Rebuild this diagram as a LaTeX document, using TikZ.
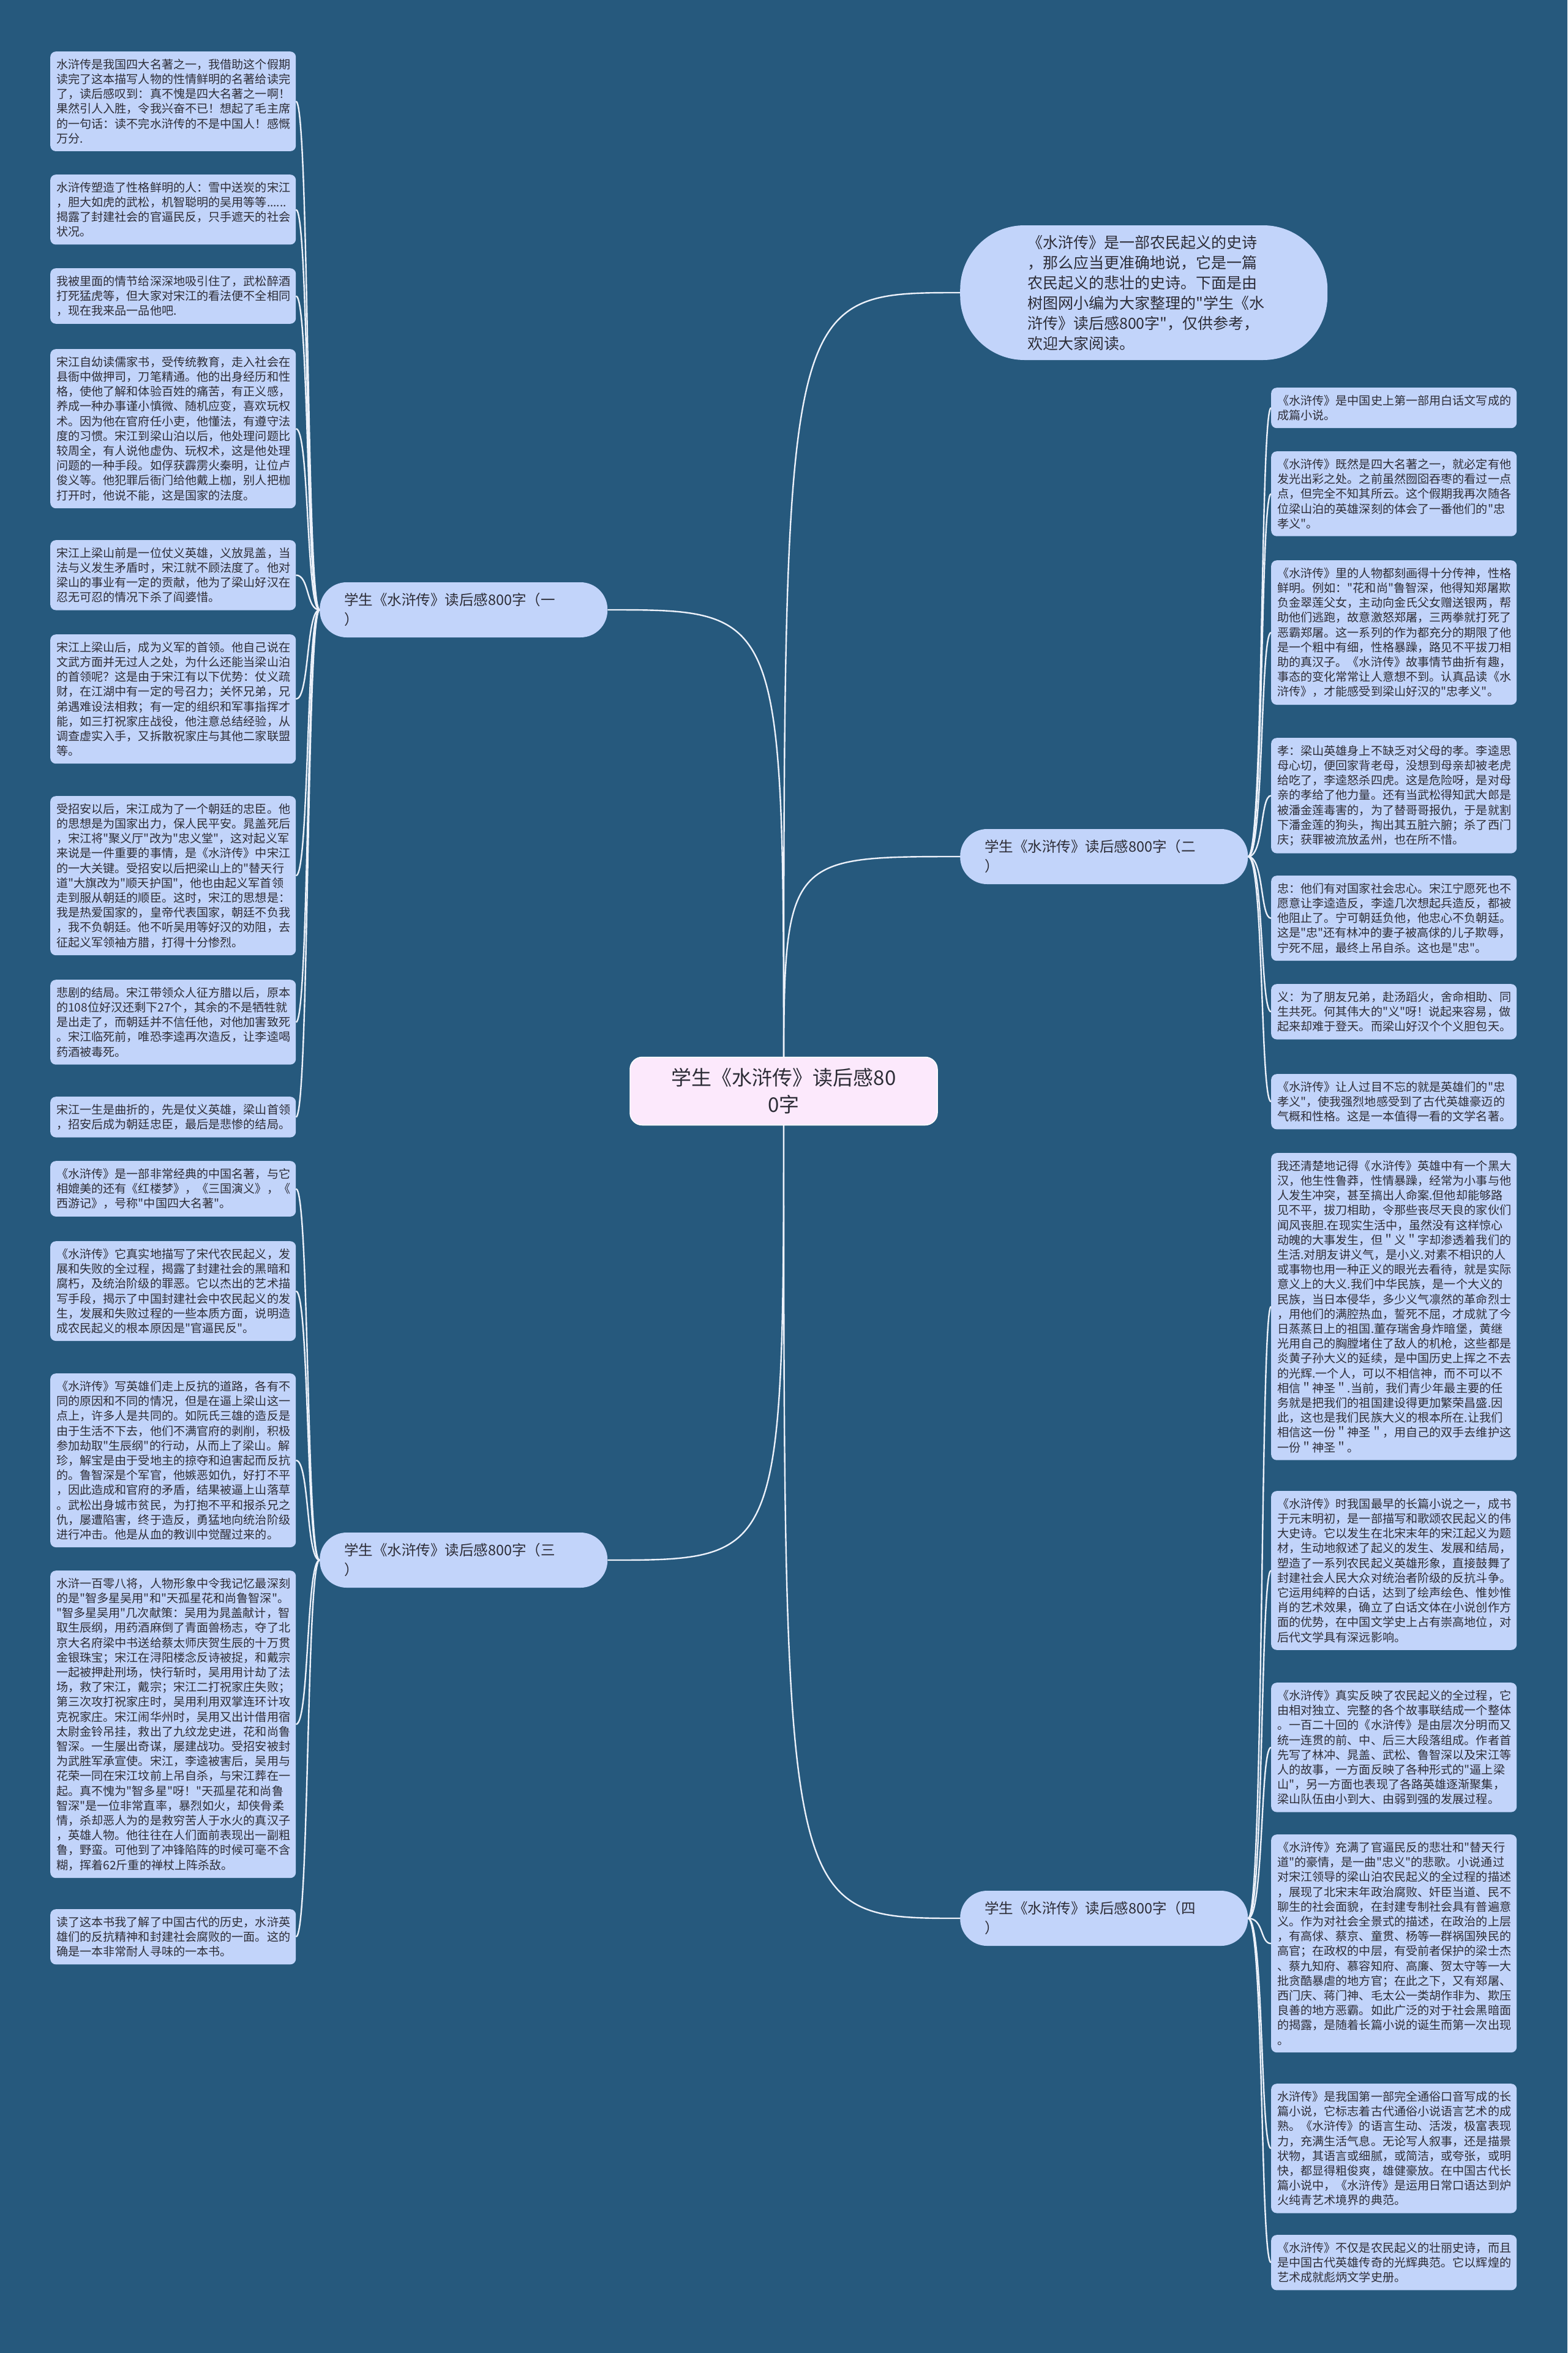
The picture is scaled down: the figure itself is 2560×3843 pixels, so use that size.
\documentclass[tikz,border=0pt]{standalone}
\usepackage{fontspec}
\setmainfont{Noto Sans CJK SC}[Ligatures=TeXOff]
\usetikzlibrary{
	backgrounds
}
\definecolor{mapbg}{RGB}{38,89,125}
\definecolor{leaffill}{RGB}{194,212,250}
\definecolor{rootfill}{RGB}{252,233,252}
\definecolor{inktext}{RGB}{45,45,55}
\definecolor{linkline}{RGB}{236,241,250}

\begin{document}
\begin{tikzpicture}[
		x=1pt, y=-1pt,
		leaf/.style={fill=leaffill, rounded corners=9, text=inktext, anchor=north west, align=left, text width=381pt, inner xsep=10pt, inner ysep=12pt, font=\fontsize{19.1}{24.2}\selectfont},
		branch/.style={fill=leaffill, rounded corners=44, text=inktext, anchor=west, align=left, text width=390pt, inner xsep=40pt, minimum height=90pt, font=\fontsize{23.5}{32}\selectfont},
		rootbox/.style={fill=rootfill, draw=white, line width=1.5pt, rounded corners=20, text=inktext, align=center, minimum width=502pt, minimum height=111pt, font=\fontsize{33}{44}\selectfont},
		bubble/.style={fill=leaffill, rounded corners=105, text=inktext, anchor=west, align=left, text width=380pt, inner xsep=110pt, minimum height=220pt, font=\fontsize{25}{33}\selectfont},
		link/.style={draw=linkline, line width=2.4pt}
		]
		
		% --- Centre ---
		\node[rootbox] (root) at (1280,1782) {学生《水浒传》读后感80\\0字};
		
		\node[bubble] (intro) at (1568,478)
		{《水浒传》是一部农民起义的史诗\\，那么应当更准确地说，它是一篇\\农民起义的悲壮的史诗。下面是由\\树图网小编为大家整理的"学生《水\\浒传》读后感800字"，仅供参考，\\欢迎大家阅读。};
		
		% --- Branches ---
		\node[branch] (b1) at (522,996) {学生《水浒传》读后感800字（一\\）};
		\node[branch] (b2) at (1568,1399) {学生《水浒传》读后感800字（二\\）};
		\node[branch] (b3) at (522,2548) {学生《水浒传》读后感800字（三\\）};
		\node[branch] (b4) at (1568,3133) {学生《水浒传》读后感800字（四\\）};
		
		% --- Left column, branch one ---
		\node[leaf] (l1) at (82,84)
		{水浒传是我国四大名著之一，我借助这个假期\\读完了这本描写人物的性情鲜明的名著给读完\\了，读后感叹到：真不愧是四大名著之一啊！\\果然引人入胜，令我兴奋不已！想起了毛主席\\的一句话：读不完水浒传的不是中国人！感慨\\万分.};
		\node[leaf] (l2) at (82,285)
		{水浒传塑造了性格鲜明的人：雪中送炭的宋江\\，胆大如虎的武松，机智聪明的吴用等等......\\揭露了封建社会的官逼民反，只手遮天的社会\\状况。};
		\node[leaf] (l3) at (82,438)
		{我被里面的情节给深深地吸引住了，武松醉酒\\打死猛虎等，但大家对宋江的看法便不全相同\\，现在我来品一品他吧.};
		\node[leaf] (l4) at (82,570)
		{宋江自幼读儒家书，受传统教育，走入社会在\\县衙中做押司，刀笔精通。他的出身经历和性\\格，使他了解和体验百姓的痛苦，有正义感，\\养成一种办事谨小慎微、随机应变，喜欢玩权\\术。因为他在官府任小吏，他懂法，有遵守法\\度的习惯。宋江到梁山泊以后，他处理问题比\\较周全，有人说他虚伪、玩权术，这是他处理\\问题的一种手段。如俘获霹雳火秦明，让位卢\\俊义等。他犯罪后衙门给他戴上枷，别人把枷\\打开时，他说不能，这是国家的法度。};
		\node[leaf] (l5) at (82,882)
		{宋江上梁山前是一位仗义英雄，义放晁盖，当\\法与义发生矛盾时，宋江就不顾法度了。他对\\梁山的事业有一定的贡献，他为了梁山好汉在\\忍无可忍的情况下杀了阎婆惜。};
		\node[leaf] (l6) at (82,1036)
		{宋江上梁山后，成为义军的首领。他自己说在\\文武方面并无过人之处，为什么还能当梁山泊\\的首领呢？这是由于宋江有以下优势：仗义疏\\财，在江湖中有一定的号召力；关怀兄弟，兄\\弟遇难设法相救；有一定的组织和军事指挥才\\能，如三打祝家庄战役，他注意总结经验，从\\调查虚实入手，又拆散祝家庄与其他二家联盟\\等。};
		\node[leaf] (l7) at (82,1300)
		{受招安以后，宋江成为了一个朝廷的忠臣。他\\的思想是为国家出力，保人民平安。晁盖死后\\，宋江将"聚义厅"改为"忠义堂"，这对起义军\\来说是一件重要的事情，是《水浒传》中宋江\\的一大关键。受招安以后把梁山上的"替天行\\道"大旗改为"顺天护国"，他也由起义军首领\\走到服从朝廷的顺臣。这时，宋江的思想是：\\我是热爱国家的，皇帝代表国家，朝廷不负我\\，我不负朝廷。他不听吴用等好汉的劝阻，去\\征起义军领袖方腊，打得十分惨烈。};
		\node[leaf] (l8) at (82,1600)
		{悲剧的结局。宋江带领众人征方腊以后，原本\\的108位好汉还剩下27个，其余的不是牺牲就\\是出走了，而朝廷并不信任他，对他加害致死\\。宋江临死前，唯恐李逵再次造反，让李逵喝\\药酒被毒死。};
		\node[leaf] (l9) at (82,1791)
		{宋江一生是曲折的，先是仗义英雄，梁山首领\\，招安后成为朝廷忠臣，最后是悲惨的结局。};
		
		% --- Left column, branch three ---
		\node[leaf] (l10) at (82,1896)
		{《水浒传》是一部非常经典的中国名著，与它\\相媲美的还有《红楼梦》，《三国演义》，《\\西游记》，号称"中国四大名著"。};
		\node[leaf] (l11) at (82,2027)
		{《水浒传》它真实地描写了宋代农民起义，发\\展和失败的全过程，揭露了封建社会的黑暗和\\腐朽，及统治阶级的罪恶。它以杰出的艺术描\\写手段，揭示了中国封建社会中农民起义的发\\生，发展和失败过程的一些本质方面，说明造\\成农民起义的根本原因是"官逼民反"。};
		\node[leaf] (l12) at (82,2243)
		{《水浒传》写英雄们走上反抗的道路，各有不\\同的原因和不同的情况，但是在逼上梁山这一\\点上，许多人是共同的。如阮氏三雄的造反是\\由于生活不下去，他们不满官府的剥削，积极\\参加劫取"生辰纲"的行动，从而上了梁山。解\\珍，解宝是由于受地主的掠夺和迫害起而反抗\\的。鲁智深是个军官，他嫉恶如仇，好打不平\\，因此造成和官府的矛盾，结果被逼上山落草\\。武松出身城市贫民，为打抱不平和报杀兄之\\仇，屡遭陷害，终于造反，勇猛地向统治阶级\\进行冲击。他是从血的教训中觉醒过来的。};
		\node[leaf] (l13) at (82,2565)
		{水浒一百零八将，人物形象中令我记忆最深刻\\的是"智多星吴用"和"天孤星花和尚鲁智深"。\\"智多星吴用"几次献策：吴用为晁盖献计，智\\取生辰纲，用药酒麻倒了青面兽杨志，夺了北\\京大名府梁中书送给蔡太师庆贺生辰的十万贯\\金银珠宝；宋江在浔阳楼念反诗被捉，和戴宗\\一起被押赴刑场，快行斩时，吴用用计劫了法\\场，救了宋江，戴宗；宋江二打祝家庄失败；\\第三次攻打祝家庄时，吴用利用双掌连环计攻\\克祝家庄。宋江闹华州时，吴用又出计借用宿\\太尉金铃吊挂，救出了九纹龙史进，花和尚鲁\\智深。一生屡出奇谋，屡建战功。受招安被封\\为武胜军承宣使。宋江，李逵被害后，吴用与\\花荣一同在宋江坟前上吊自杀，与宋江葬在一\\起。真不愧为"智多星"呀！"天孤星花和尚鲁\\智深"是一位非常直率，暴烈如火，却侠骨柔\\情，杀却恶人为的是救穷苦人于水火的真汉子\\，英雄人物。他往往在人们面前表现出一副粗\\鲁，野蛮。可他到了冲锋陷阵的时候可毫不含\\糊，挥着62斤重的禅杖上阵杀敌。};
		\node[leaf] (l14) at (82,3118)
		{读了这本书我了解了中国古代的历史，水浒英\\雄们的反抗精神和封建社会腐败的一面。这的\\确是一本非常耐人寻味的一本书。};
		
		% --- Right column, branch two ---
		\node[leaf] (r1) at (2076,633)
		{《水浒传》是中国史上第一部用白话文写成的\\成篇小说。};
		\node[leaf] (r2) at (2076,737)
		{《水浒传》既然是四大名著之一，就必定有他\\发光出彩之处。之前虽然囫囵吞枣的看过一点\\点，但完全不知其所云。这个假期我再次随各\\位梁山泊的英雄深刻的体会了一番他们的"忠\\孝义"。};
		\node[leaf] (r3) at (2076,915)
		{《水浒传》里的人物都刻画得十分传神，性格\\鲜明。例如："花和尚"鲁智深，他得知郑屠欺\\负金翠莲父女，主动向金氏父女赠送银两，帮\\助他们逃跑，故意激怒郑屠，三两拳就打死了\\恶霸郑屠。这一系列的作为都充分的期限了他\\是一个粗中有细，性格暴躁，路见不平拔刀相\\助的真汉子。《水浒传》故事情节曲折有趣，\\事态的变化常常让人意想不到。认真品读《水\\浒传》，才能感受到梁山好汉的"忠孝义"。};
		\node[leaf] (r4) at (2076,1205)
		{孝：梁山英雄身上不缺乏对父母的孝。李逵思\\母心切，便回家背老母，没想到母亲却被老虎\\给吃了，李逵怒杀四虎。这是危险呀，是对母\\亲的孝给了他力量。还有当武松得知武大郎是\\被潘金莲毒害的，为了替哥哥报仇，于是就割\\下潘金莲的狗头，掏出其五脏六腑；杀了西门\\庆；获罪被流放孟州，也在所不惜。};
		\node[leaf] (r5) at (2076,1430)
		{忠：他们有对国家社会忠心。宋江宁愿死也不\\愿意让李逵造反，李逵几次想起兵造反，都被\\他阻止了。宁可朝廷负他，他忠心不负朝廷。\\这是"忠"还有林冲的妻子被高俅的儿子欺辱，\\宁死不屈，最终上吊自杀。这也是"忠"。};
		\node[leaf] (r6) at (2076,1607)
		{义：为了朋友兄弟，赴汤蹈火，舍命相助、同\\生共死。何其伟大的"义"呀！说起来容易，做\\起来却难于登天。而梁山好汉个个义胆包天。};
		\node[leaf] (r7) at (2076,1754)
		{《水浒传》让人过目不忘的就是英雄们的"忠\\孝义"，使我强烈地感受到了古代英雄豪迈的\\气概和性格。这是一本值得一看的文学名著。};
		
		% --- Right column, branch four ---
		\node[leaf] (r8) at (2076,1883)
		{我还清楚地记得《水浒传》英雄中有一个黑大\\汉，他生性鲁莽，性情暴躁，经常为小事与他\\人发生冲突，甚至搞出人命案.但他却能够路\\见不平，拔刀相助，令那些丧尽天良的家伙们\\闻风丧胆.在现实生活中，虽然没有这样惊心\\动魄的大事发生，但＂义＂字却渗透着我们的\\生活.对朋友讲义气，是小义.对素不相识的人\\或事物也用一种正义的眼光去看待，就是实际\\意义上的大义.我们中华民族，是一个大义的\\民族，当日本侵华，多少义气凛然的革命烈士\\，用他们的满腔热血，誓死不屈，才成就了今\\日蒸蒸日上的祖国.董存瑞舍身炸暗堡，黄继\\光用自己的胸膛堵住了敌人的机枪，这些都是\\炎黄子孙大义的延续，是中国历史上挥之不去\\的光辉.一个人，可以不相信神，而不可以不\\相信＂神圣＂.当前，我们青少年最主要的任\\务就是把我们的祖国建设得更加繁荣昌盛.因\\此，这也是我们民族大义的根本所在.让我们\\相信这一份＂神圣＂，用自己的双手去维护这\\一份＂神圣＂。};
		\node[leaf] (r9) at (2076,2435)
		{《水浒传》时我国最早的长篇小说之一，成书\\于元末明初，是一部描写和歌颂农民起义的伟\\大史诗。它以发生在北宋末年的宋江起义为题\\材，生动地叙述了起义的发生、发展和结局，\\塑造了一系列农民起义英雄形象，直接鼓舞了\\封建社会人民大众对统治者阶级的反抗斗争。\\它运用纯粹的白话，达到了绘声绘色、惟妙惟\\肖的艺术效果，确立了白话文体在小说创作方\\面的优势，在中国文学史上占有崇高地位，对\\后代文学具有深远影响。};
		\node[leaf] (r10) at (2076,2748)
		{《水浒传》真实反映了农民起义的全过程，它\\由相对独立、完整的各个故事联结成一个整体\\。一百二十回的《水浒传》是由层次分明而又\\统一连贯的前、中、后三大段落组成。作者首\\先写了林冲、晁盖、武松、鲁智深以及宋江等\\人的故事，一方面反映了各种形式的"逼上梁\\山"，另一方面也表现了各路英雄逐渐聚集，\\梁山队伍由小到大、由弱到强的发展过程。};
		\node[leaf] (r11) at (2076,2996)
		{《水浒传》充满了官逼民反的悲壮和"替天行\\道"的豪情，是一曲"忠义"的悲歌。小说通过\\对宋江领导的梁山泊农民起义的全过程的描述\\，展现了北宋末年政治腐败、奸臣当道、民不\\聊生的社会面貌，在封建专制社会具有普遍意\\义。作为对社会全景式的描述，在政治的上层\\，有高俅、蔡京、童贯、杨等一群祸国殃民的\\高官；在政权的中层，有受前者保护的梁士杰\\、蔡九知府、慕容知府、高廉、贺太守等一大\\批贪酷暴虐的地方官；在此之下，又有郑屠、\\西门庆、蒋门神、毛太公一类胡作非为、欺压\\良善的地方恶霸。如此广泛的对于社会黑暗面\\的揭露，是随着长篇小说的诞生而第一次出现\\。};
		\node[leaf] (r12) at (2076,3403)
		{水浒传》是我国第一部完全通俗口音写成的长\\篇小说，它标志着古代通俗小说语言艺术的成\\熟。《水浒传》的语言生动、活泼，极富表现\\力，充满生活气息。无论写人叙事，还是描景\\状物，其语言或细腻，或简洁，或夸张，或明\\快，都显得粗俊爽，雄健豪放。在中国古代长\\篇小说中，《水浒传》是运用日常口语达到炉\\火纯青艺术境界的典范。};
		\node[leaf] (r13) at (2076,3650)
		{《水浒传》不仅是农民起义的壮丽史诗，而且\\是中国古代英雄传奇的光辉典范。它以辉煌的\\艺术成就彪炳文学史册。};
		
		% --- Links ---
		\begin{pgfonlayer}{background}
			\fill[mapbg] (0,0) rectangle (2560,3843);
			\draw[link] (root.center) .. controls (root.center |- intro.west) .. (intro.west);
			\draw[link] (root.center) .. controls (root.center |- b1.east) .. (b1.east);
			\draw[link] (root.center) .. controls (root.center |- b2.west) .. (b2.west);
			\draw[link] (root.center) .. controls (root.center |- b3.east) .. (b3.east);
			\draw[link] (root.center) .. controls (root.center |- b4.west) .. (b4.west);
			\foreach \k in {1,...,9}
				\draw[link] (b1.west) .. controls +(-22,0) and +(22,0) .. (l\k.east);
			\foreach \k in {10,...,14}
				\draw[link] (b3.west) .. controls +(-22,0) and +(22,0) .. (l\k.east);
			\foreach \k in {1,...,7}
				\draw[link] (b2.east) .. controls +(26,0) and +(-18,0) .. (r\k.west);
			\foreach \k in {8,...,13}
				\draw[link] (b4.east) .. controls +(26,0) and +(-18,0) .. (r\k.west);
		\end{pgfonlayer}
		
	\end{tikzpicture}
\end{document}
